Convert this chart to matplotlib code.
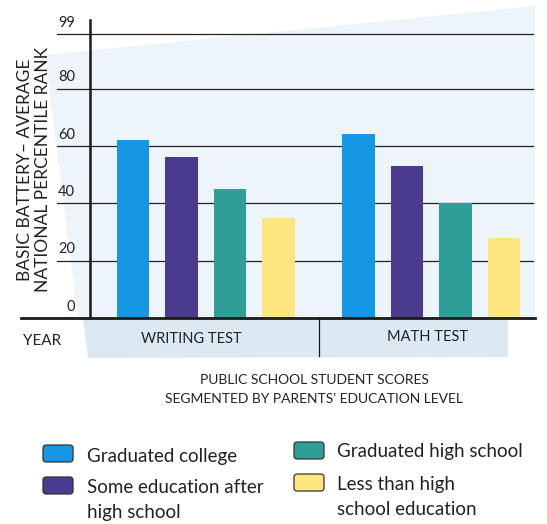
import matplotlib
matplotlib.use("Agg")
import matplotlib.pyplot as plt
from matplotlib.patches import Polygon, FancyBboxPatch
from matplotlib.lines import Line2D

# ---- data ----
groups = ["WRITING TEST", "MATH TEST"]
series = ["Graduated college", "Some education after\nhigh school",
          "Graduated high school", "Less than high\nschool education"]
writing = [62, 56, 45, 35]
math_ = [64, 53, 40, 28]
values = [writing, math_]
yticks = [0, 20, 40, 60, 80, 99]
colors = ["#1597e3", "#4a3b8e", "#2e9f98", "#fde57f"]

W, H = 547, 524
fig = plt.figure(figsize=(W / 100, H / 100), dpi=100)
fig.patch.set_facecolor("white")
FONT = "Lato"
plt.rcParams["font.family"] = [FONT, "DejaVu Sans"]


def fx(x):
    return x / W


def fy(y):
    return 1 - y / H


# background tint behind plot
fig.patches.append(Polygon([(fx(45), fy(55)), (fx(535), fy(6)), (fx(535), fy(318)), (fx(78), fy(318))],
                           closed=True, transform=fig.transFigure, facecolor="#edf4fa",
                           edgecolor="none", zorder=-2))
# category band
fig.patches.append(Polygon([(fx(83), fy(319)), (fx(508), fy(319)), (fx(508), fy(357)), (fx(88), fy(358))],
                           closed=True, transform=fig.transFigure, facecolor="#dce9f3",
                           edgecolor="none", zorder=-2))

L, R, B, T = 90, 533, 318, 34
ax = fig.add_axes([fx(L), fy(B), (R - L) / W, (B - T) / H])
ax.set_zorder(1)
ax.set_facecolor("none")
for s in ax.spines.values():
    s.set_visible(False)
ax.set_xticks([])
ax.set_yticks([])
ax.set_ylim(0, 99)
unit = 48.5
ax.set_xlim((L - 130.5) / unit, (R - 130.5) / unit)

# gridlines
for v in yticks[1:]:
    ax.axhline(v, xmin=(57 - L) / (R - L), xmax=1, color="#222222", lw=0.9,
               clip_on=False, zorder=1)
for v in yticks:
    ax.annotate(str(v), xy=((75 - L) / (R - L), v), xycoords=("axes fraction", "data"),
                xytext=(0, 3), textcoords="offset points", ha="right", va="bottom",
                fontsize=10.5, color="#222222")

# bars
gap = 4.65
for g, vals in enumerate(values):
    for i, v in enumerate(vals):
        ax.bar(g * gap + i + 0.05, v, width=0.67, color=colors[i], zorder=3)

# axis lines
fig.add_artist(Line2D([fx(90), fx(90)], [fy(318), fy(20)], color="#1a1a1a", lw=1.8,
                      transform=fig.transFigure, zorder=5))
fig.add_artist(Line2D([fx(21), fx(535)], [fy(318), fy(318)], color="#1a1a1a", lw=2.0,
                      transform=fig.transFigure, zorder=5))
fig.add_artist(Line2D([fx(319), fx(319)], [fy(318), fy(356)], color="#1a1a1a", lw=0.9,
                      transform=fig.transFigure, zorder=5))

# category labels
fig.text(fx(42), fy(341), "YEAR", ha="center", va="center", fontsize=11, color="#222222")
fig.text(fx(191), fy(339), groups[0], ha="center", va="center", fontsize=10.5, color="#222222")
fig.text(fx(428), fy(337), groups[1], ha="center", va="center", fontsize=10.5, color="#222222")

# y label
fig.text(fx(25), fy(170), "BASIC BATTERY\u2013 AVERAGE", rotation=90, ha="center", va="center",
         fontsize=12.5, color="#222222")
fig.text(fx(43), fy(169), "NATIONAL PERCENTILE RANK", rotation=90, ha="center", va="center",
         fontsize=12.5, color="#222222")

# title
fig.text(fx(314), fy(380), "PUBLIC SCHOOL STUDENT SCORES", ha="center", va="center",
         fontsize=10, color="#222222")
fig.text(fx(314), fy(399), "SEGMENTED BY PARENTS' EDUCATION LEVEL", ha="center", va="center",
         fontsize=10, color="#222222")

# legend
legend_pos = [(43, 445, 87, 462), (43, 477, 87, 493), (294, 442, 337, 457), (294, 474, 337, 490)]
for (bx, by, tx, ty), lab, c in zip(legend_pos, series, colors):
    fig.patches.append(FancyBboxPatch((fx(bx), fy(by + 17)), 30 / W, 17 / H,
                                      boxstyle="round,pad=0,rounding_size=0.006",
                                      transform=fig.transFigure, facecolor=c,
                                      edgecolor="#333333", lw=0.9, zorder=3))
    for k, line in enumerate(lab.split("\n")):
        fig.text(fx(tx), fy(ty + 25 * k), line, ha="left", va="baseline", fontsize=13.5,
                 color="#222222")

fig.savefig("out.png", dpi=100)
